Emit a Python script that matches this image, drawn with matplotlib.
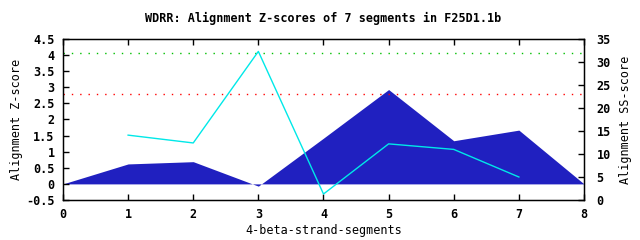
import numpy as np
import matplotlib.pyplot as plt

plt.rcParams['font.family'] = ['DejaVu Sans Mono']
plt.rcParams['font.weight'] = 'bold'
plt.rcParams['font.size'] = 8.5

# Z-scores per segment (filled area, left axis)
seg = [0, 1, 2, 3, 4, 5, 6, 7, 8]
zscore = [0, 0.62, 0.69, -0.07, 1.42, 2.93, 1.34, 1.67, 0]
# SS-scores (right axis)
ss_x = [1, 2, 3, 4, 5, 6, 7]
ss_score = [14.1, 12.4, 32.3, 1.3, 12.2, 11.0, 5.0]
# threshold lines on Z-score axis
green_level = 4.05
red_level = 2.78

fig = plt.figure(figsize=(6.4, 2.4), dpi=100)
ax = fig.add_axes([0.0984, 0.1667, 0.8141, 0.6708])

ax.fill_between(seg, zscore, 0, color='#2020c0', lw=0)
ax.axhline(green_level, color='#00c000', ls=(0, (1, 5)), lw=1)
ax.axhline(red_level, color='#ff0000', ls=(0, (1, 5)), lw=1)

ax.set_xlim(0, 8)
ax.set_ylim(-0.5, 4.5)
ax.set_xticks(range(9))
ax.set_yticks(np.arange(-0.5, 4.51, 0.5))
ax.set_yticklabels(['%g' % v for v in np.arange(-0.5, 4.51, 0.5)])
ax.tick_params(direction='in', length=4, top=True, right=False, width=1)
ax.tick_params(axis='x', pad=6)
ax.tick_params(axis='y', pad=6)
ax.set_xlabel('4-beta-strand-segments', labelpad=2)
ax.set_ylabel('Alignment Z-score')
ax.yaxis.set_label_coords(-0.076, 0.5)
ax.set_title('WDRR: Alignment Z-scores of 7 segments in F25D1.1b', pad=12, fontsize=8.5, fontweight='bold')
for s in ax.spines.values():
    s.set_linewidth(1)

ax2 = ax.twinx()
ax2.plot(ss_x, ss_score, color='#00e8e8', lw=1)
ax2.set_ylim(0, 35)
ax2.set_yticks(range(0, 36, 5))
ax2.tick_params(direction='in', length=4, width=1, pad=9)
ax2.set_ylabel('Alignment SS-score')
ax2.yaxis.set_label_coords(1.067, 0.5)

fig.savefig('out.png', dpi=100)
